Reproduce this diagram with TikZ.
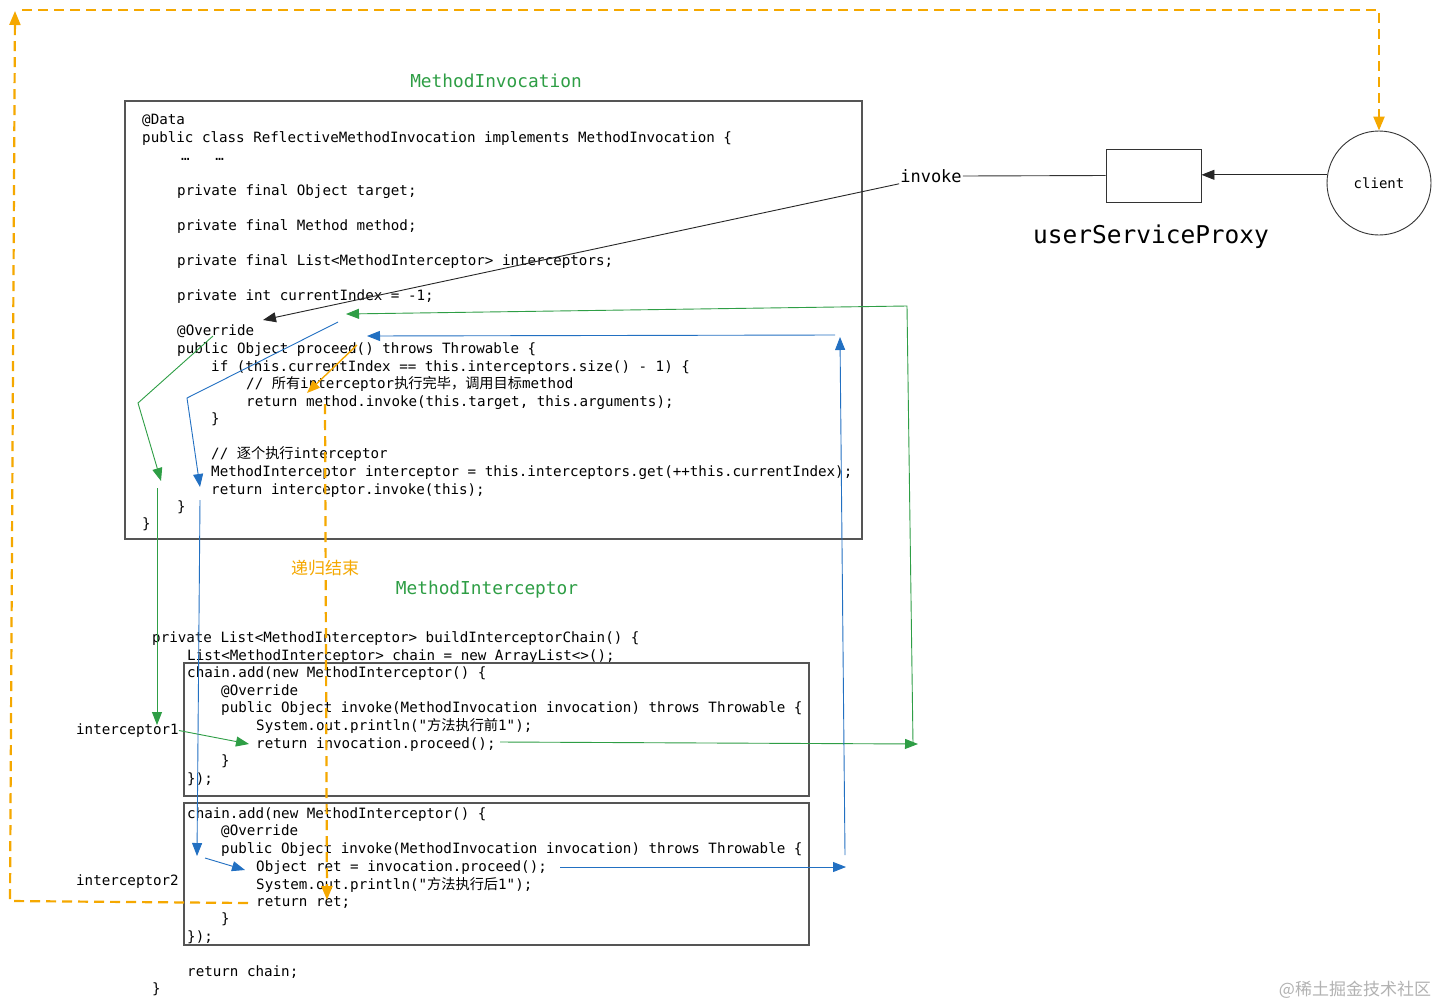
\documentclass[tikz,border=0pt]{standalone}
\usepackage{fontspec}
\setmonofont{DejaVu Sans Mono}
\newfontfamily\cjk{Noto Sans CJK SC}
\usetikzlibrary{arrows.meta}
\definecolor{cgreen}{HTML}{2E9E45}
\definecolor{cblue}{HTML}{2270C2}
\definecolor{corange}{HTML}{F5A800}
\definecolor{cbox}{HTML}{555555}
\begin{document}
\begin{tikzpicture}[x=1pt,y=-1pt,
  code/.style={anchor=west,inner sep=0pt,yshift=-1.5pt,font=\ttfamily\fontsize{14.2}{17}\selectfont,text height=10pt,text depth=3pt},
  title/.style={inner sep=0pt,font=\ttfamily\fontsize{17.8}{20}\selectfont,text=cgreen},
  codebox/.style={draw=cbox,line width=1.1pt},
  tip/.style={-{Triangle[length=13pt,width=10pt]}},
  garr/.style={tip,draw=cgreen,line width=0.9pt},
  barr/.style={tip,draw=cblue,line width=0.9pt},
  oarr/.style={tip,draw=corange,line width=1.4pt},
  odash/.style={draw=corange,line width=2.2pt,dash pattern=on 10pt off 6pt,-{Triangle[length=14pt,width=11pt]}},
  karr/.style={tip,draw=black!85,line width=0.9pt}
]
\useasboundingbox (0,0) rectangle (1440,1007);
\fill[white] (0,0) rectangle (1440,1007);

% ---------- top code box ----------
\node[title] (t1) at (496,81) {MethodInvocation};
\draw[codebox] (125,101) rectangle (862,539);
\node[code] (a1) at (142,119) {@Data};
\node[code] (a2) at (142,137) {public class ReflectiveMethodInvocation implements MethodInvocation \{};
\node[code] (a3) at (181,155) {…\ \ \ …};
\node[code] (a4) at (177,190) {private final Object target;};
\node[code] (a5) at (177,225) {private final Method method;};
\node[code] (a6) at (177,260) {private final List<MethodInterceptor> interceptors;};
\node[code] (a7) at (177,295) {private int currentIndex = -1;};
\node[code] (a8) at (177,330) {@Override};
\node[code] (a9) at (177,348) {public Object proceed() throws Throwable \{};
\node[code] (a10) at (211,366) {if (this.currentIndex == this.interceptors.size() - 1) \{};
\node[code] (a11) at (246,383) {// {\cjk 所有}interceptor{\cjk 执行完毕，调用目标}method};
\node[code] (a12) at (246,401) {return method.invoke(this.target, this.arguments);};
\node[code] (a13) at (211,418) {\}};
\node[code] (a14) at (211,453) {// {\cjk 逐个执行}interceptor};
\node[code] (a15) at (211,471) {MethodInterceptor interceptor = this.interceptors.get(++this.currentIndex);};
\node[code] (a16) at (211,489) {return interceptor.invoke(this);};
\node[code] (a17) at (177,506) {\}};
\node[code] (a18) at (142,523) {\}};

% ---------- lower code ----------
\node[title] (t2) at (487,590) {MethodInterceptor};
\node[code] (c1) at (152,637) {private List<MethodInterceptor> buildInterceptorChain() \{};
\node[code] (c2) at (187,655) {List<MethodInterceptor> chain = new ArrayList<>();};
\draw[codebox] (184,663) rectangle (809,796);
\node[code] (d1) at (187,672) {chain.add(new MethodInterceptor() \{};
\node[code] (d2) at (221,690) {@Override};
\node[code] (d3) at (221,707) {public Object invoke(MethodInvocation invocation) throws Throwable \{};
\node[code] (d4) at (256,725) {System.out.println("{\cjk 方法执行前}1");};
\node[code] (d5) at (256,743) {return invocation.proceed();};
\node[code] (d6) at (221,760) {\}};
\node[code] (d7) at (187,778) {\});};
\draw[codebox] (184,803) rectangle (809,945);
\node[code] (e1) at (187,813) {chain.add(new MethodInterceptor() \{};
\node[code] (e2) at (221,830) {@Override};
\node[code] (e3) at (221,848) {public Object invoke(MethodInvocation invocation) throws Throwable \{};
\node[code] (e4) at (256,866) {Object ret = invocation.proceed();};
\node[code] (e5) at (256,884) {System.out.println("{\cjk 方法执行后}1");};
\node[code] (e6) at (256,901) {return ret;};
\node[code] (e7) at (221,918) {\}};
\node[code] (e8) at (187,936) {\});};
\node[code] (c3) at (187,971) {return chain;};
\node[code] (c4) at (152,988) {\}};
\node[code] (ic1) at (76,729) {interceptor1};
\node[code] (ic2) at (76,880) {interceptor2};

% ---------- right side ----------
\node[draw=black!80,line width=0.9pt,circle,minimum size=104pt,inner sep=0pt,font=\ttfamily\fontsize{14}{16}\selectfont] (client) at (1379,183) {client};
\node[draw=black!80,line width=0.9pt,minimum width=95pt,minimum height=53pt,inner sep=0pt] (proxy) at (1153.5,175.5) {};
\node[inner sep=0pt,font=\ttfamily\fontsize{24.5}{28}\selectfont] (plabel) at (1151,237) {userServiceProxy};
\node[inner sep=1pt,font=\ttfamily\fontsize{17}{20}\selectfont] (invoke) at (931,176) {invoke};
\draw[karr] (client.171) -- (client.171 -| proxy.east);
\draw[black!80,line width=0.9pt] (proxy.west) -- (invoke.east);
\coordinate (k1) at (263,320);
\draw[karr] (invoke.south west) -- (k1);

% ---------- green flow ----------
\coordinate (g0) at (213,336); \coordinate (g1) at (138,403); \coordinate (g2) at (161,481);
\draw[garr] (g0) -- (g1) -- (g2);
\coordinate (g3) at (157,488); \coordinate (g4) at (157,725);
\draw[garr] (g3) -- (g4);
\coordinate (g5) at (249,744);
\draw[garr] (ic1.east) -- (g5);
\coordinate (g6) at (500,742); \coordinate (g7) at (918,744);
\draw[garr] (g6) -- (g7);
\coordinate (g8) at (913,744); \coordinate (g9) at (907,306); \coordinate (g10) at (346,314);
\draw[garr] (g8) -- (g9) -- (g10);

% ---------- blue flow ----------
\coordinate (b0) at (338,322); \coordinate (b1) at (187,398); \coordinate (b2) at (200,487);
\draw[barr] (b0) -- (b1) -- (b2);
\coordinate (b3) at (200,500); \coordinate (b4) at (197,856);
\draw[barr] (b3) -- (b4);
\coordinate (b5) at (205,858); \coordinate (b6) at (245,870);
\draw[barr] (b5) -- (b6);
\coordinate (b7) at (560,867); \coordinate (b8) at (846,867);
\draw[barr] (b7) -- (b8);
\coordinate (b9) at (845,855); \coordinate (b10) at (840,337);
\draw[barr] (b9) -- (b10);
\coordinate (b11) at (835,335); \coordinate (b12) at (367,336);
\draw[barr] (b11) -- (b12);

% ---------- orange flow ----------
\coordinate (o0) at (357,345); \coordinate (o1) at (307,393);
\draw[oarr] (o0) -- (o1);
\coordinate (o2) at (325,404); \coordinate (o3) at (327,900);
\draw[odash] (o2) -- (o3);
\node[inner sep=2pt,fill=white,text=corange,font=\cjk\fontsize{17}{19}\selectfont] (rec) at (325,568) {递归结束};
\coordinate (o4) at (248,903); \coordinate (o5) at (10,901); \coordinate (o6) at (15,11);
\draw[odash] (o4) -- (o5) -- (o6);
\coordinate (o7) at (22,10); \coordinate (o8) at (1379,10);
\draw[odash] (o7) -- (o8) -- (client.north);

% watermark
\node[inner sep=0pt,text=black!30,font=\cjk\fontsize{17}{19}\selectfont] (wm) at (1355,990) {@稀土掘金技术社区};
\end{tikzpicture}
\end{document}
